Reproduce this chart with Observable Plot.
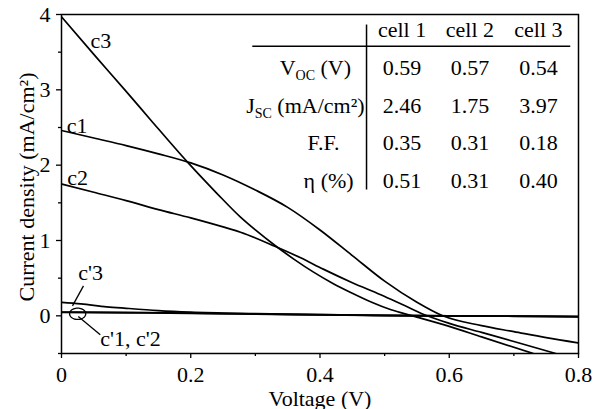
<!DOCTYPE html>
<html><head><meta charset="utf-8">
<script src="https://cdn.jsdelivr.net/npm/d3@7"></script>
<script src="https://cdn.jsdelivr.net/npm/@observablehq/plot@0.6"></script>
<style>
html,body{margin:0;padding:0;background:#fff;}
#chart svg{display:block;}
</style></head><body><div id="chart"></div>
<script>
// ---- data: [voltage (V), current density (mA/cm²)] ----
const c1 = [[0,2.46],[0.05,2.36],[0.1,2.26],[0.15,2.15],[0.2,2.03],[0.25,1.87],[0.3,1.67],[0.35,1.44],[0.4,1.14],[0.45,0.80],[0.5,0.46],[0.55,0.18],[0.59,0],[0.65,-0.13],[0.70,-0.21],[0.75,-0.29],[0.8,-0.36]];
const c2 = [[0,1.75],[0.05,1.64],[0.1,1.53],[0.15,1.41],[0.2,1.30],[0.25,1.18],[0.277,1.11],[0.331,0.92],[0.37,0.77],[0.405,0.62],[0.45,0.44],[0.494,0.28],[0.53,0.14],[0.566,0],[0.6,-0.1],[0.65,-0.22],[0.70,-0.34],[0.765,-0.5]];
const c3 = [[0,3.97],[0.05,3.47],[0.1,2.98],[0.138,2.60],[0.195,2.04],[0.24,1.63],[0.277,1.31],[0.30,1.14],[0.331,0.93],[0.36,0.75],[0.39,0.58],[0.42,0.43],[0.45,0.30],[0.48,0.18],[0.51,0.08],[0.543,0],[0.6,-0.14],[0.65,-0.28],[0.73,-0.5]];
const cp1 = [[0,0.05],[0.1,0.045],[0.2,0.035],[0.3,0.025],[0.4,0.015],[0.5,0.005],[0.6,0],[0.7,-0.005],[0.8,-0.01]];
const cp2 = [[0,0.045],[0.1,0.04],[0.2,0.032],[0.3,0.022],[0.4,0.013],[0.5,0.004],[0.6,-0.002],[0.7,-0.006],[0.8,-0.01]];
const cp3 = [[0,0.18],[0.03,0.16],[0.07,0.12],[0.1,0.1],[0.15,0.07],[0.2,0.05],[0.3,0.03],[0.4,0.015],[0.5,0.005],[0.6,0],[0.8,-0.01]];
const curveNames = ["c1","c2","c3","c'1","c'2","c'3"];
const curveSeries = [c1, c2, c3, cp1, cp2, cp3];

const xTicks = [0, 0.2, 0.4, 0.6, 0.8];
const xMinor = [0.1, 0.3, 0.5, 0.7];
const yTicks = [0, 1, 2, 3, 4];
const yMinor = [-0.5, 0.5, 1.5, 2.5, 3.5];

const labelTexts = ["c3", "c1", "c2", "c'3", "c'1, c'2"];
const tableCols = ["cell 1", "cell 2", "cell 3"];
const rowLabels = ["V{OC} (V)", "J{SC} (mA/cm²)", "F.F.", "η (%)"];
const rowVoc = ["0.59", "0.57", "0.54"];
const rowJsc = ["2.46", "1.75", "3.97"];
const rowFF  = ["0.35", "0.31", "0.18"];
const rowEta = ["0.51", "0.31", "0.40"];
const rowValues = [rowVoc, rowJsc, rowFF, rowEta];

// ---- layout (annotation placement, in data units) ----
const labelPos = [[0.045,3.555],[0.008,2.43],[0.009,1.74],[0.026,0.477],[0.060,-0.40]];
const colX = [0.527, 0.632, 0.738];
const headerY = 3.70;
const rowY = [3.20, 2.69, 2.20, 1.70];
const rowLabelX = [0.448, 0.469, 0.430, 0.452];
const leaders = [{x1:0.017,y1:0.133,x2:0.034,y2:0.398},{x1:0.026,y1:-0.01,x2:0.060,y2:-0.25}];
const ell = {cx:0.025, cy:0.027, rx:0.0125, ry:0.075};

const lineData = curveSeries.flatMap((s, i) => s.map(([v, j]) => ({curve: curveNames[i], v, j})));
const labelData = labelTexts.map((t, i) => ({t, x: labelPos[i][0], y: labelPos[i][1]}));
const headerData = tableCols.map((t, i) => ({t, x: colX[i], y: headerY}));
const rowLabelData = rowLabels.map((t, i) => ({t, x: rowLabelX[i], y: rowY[i]}));
const cellData = rowValues.flatMap((vals, r) => vals.map((t, c) => ({t, x: colX[c], y: rowY[r]})));
const ellipsePts = d3.range(0, 49).map(k => {
  const a = (k / 48) * 2 * Math.PI;
  return {x: ell.cx + ell.rx * Math.cos(a), y: ell.cy + ell.ry * Math.sin(a)};
});

const FONT = "Liberation Serif";
const FS = 22;
const fmt = d => (d === 0 ? "0" : String(d));
const T = {fontSize: FS, fontFamily: FONT, fill: "#000"};

const plot = Plot.plot({
  width: 600, height: 409,
  marginLeft: 61, marginRight: 22, marginTop: 14, marginBottom: 56,
  style: {fontFamily: FONT, fontSize: FS + "px", color: "#000", background: "#fff", overflow: "visible"},
  x: {domain: [0, 0.8]},
  y: {domain: [-0.5, 4]},
  marks: [
    Plot.axisX(xMinor, {tickSize: 3, fill: "none", label: null, strokeWidth: 1.3}),
    Plot.axisX(xTicks, {tickSize: 5, tickPadding: 8, label: null, tickFormat: fmt, fontSize: FS, fontFamily: FONT, strokeWidth: 1.3}),
    Plot.axisY(yMinor, {tickSize: 3, fill: "none", label: null, strokeWidth: 1.3}),
    Plot.axisY(yTicks, {tickSize: 5, tickPadding: 6, label: null, tickFormat: fmt, fontSize: FS, fontFamily: FONT, strokeWidth: 1.3}),
    Plot.frame({stroke: "#000", strokeWidth: 1.5}),
    Plot.line(lineData, {x: "v", y: "j", z: "curve", stroke: "#000", strokeWidth: 1.7, curve: "monotone-x", clip: true}),
    Plot.line(ellipsePts, {x: "x", y: "y", stroke: "#000", strokeWidth: 1.3, curve: "linear"}),
    Plot.link(leaders, {x1: "x1", y1: "y1", x2: "x2", y2: "y2", stroke: "#000", strokeWidth: 1.3}),
    Plot.text(labelData, {x: "x", y: "y", text: "t", textAnchor: "start", lineAnchor: "bottom", ...T}),
    // table
    Plot.ruleY([0], {y: () => 3.58, x1: () => 0.296, x2: () => 0.788, stroke: "#000", strokeWidth: 1.5}),
    Plot.ruleX([0], {x: () => 0.472, y1: () => 1.67, y2: () => 3.86, stroke: "#000", strokeWidth: 1.5}),
    Plot.text(headerData, {x: "x", y: "y", text: "t", textAnchor: "middle", lineAnchor: "bottom", ...T}),
    Plot.text(rowLabelData, {x: "x", y: "y", text: "t", textAnchor: "end", lineAnchor: "bottom", ...T}),
    Plot.text(cellData, {x: "x", y: "y", text: "t", textAnchor: "middle", lineAnchor: "bottom", ...T}),
    // axis titles
    Plot.text(["Voltage (V)"], {text: d => d, frameAnchor: "bottom", textAnchor: "middle", dy: 52, lineAnchor: "bottom", ...T}),
    Plot.text(["Current density (mA/cm²)"], {text: d => d, frameAnchor: "left", textAnchor: "middle", rotate: -90, dx: -35, dy: 3, lineAnchor: "middle", ...T})
  ]
});

// subscripts: text written as "V{OC} (V)"
const NS = "http://www.w3.org/2000/svg";
plot.querySelectorAll("text").forEach(t => {
  const s = t.textContent;
  if (!s.includes("{")) return;
  t.textContent = "";
  let down = false;
  s.split(/(\{[^}]*\})/).filter(p => p.length).forEach(part => {
    const ts = document.createElementNS(NS, "tspan");
    if (part.startsWith("{")) {
      ts.textContent = part.slice(1, -1);
      ts.setAttribute("font-size", "14");
      ts.setAttribute("dy", "5");
      down = true;
    } else {
      ts.textContent = part;
      if (down) { ts.setAttribute("dy", "-5"); down = false; }
    }
    t.appendChild(ts);
  });
});

document.getElementById("chart").appendChild(plot);
</script>
</body></html>
